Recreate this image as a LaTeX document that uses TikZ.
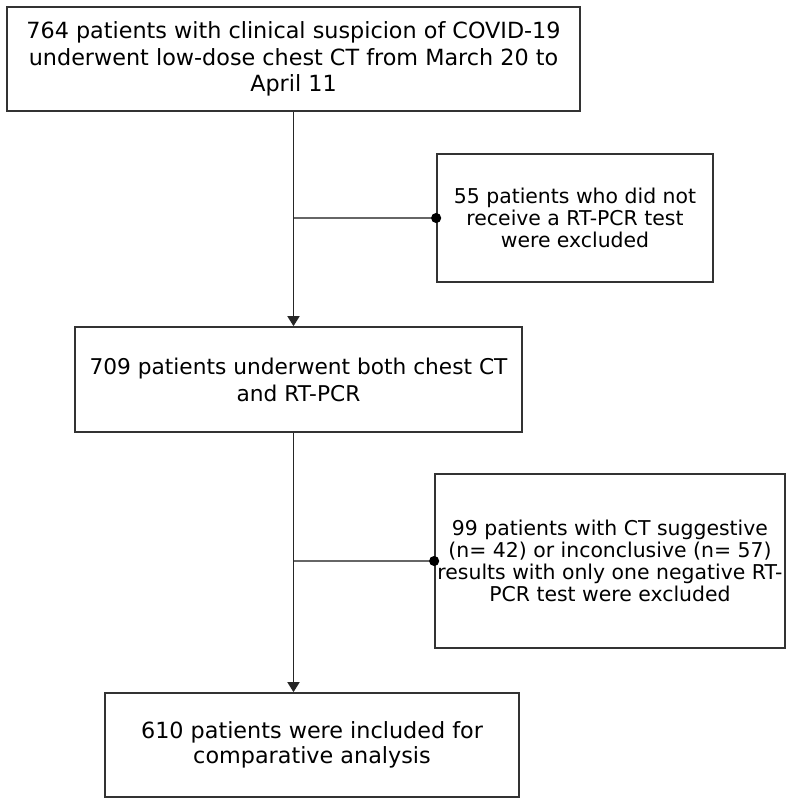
\documentclass[tikz,border=0pt]{standalone}
\usepackage{fontspec}
\setmainfont{DejaVu Sans}
\usetikzlibrary{arrows.meta}

\tikzset{every picture/.style={line width=1.7pt}}
\tikzset{
  flowbox/.style={draw=black!80, fill=white, align=center, inner sep=0pt},
  trunk/.style={draw=black!85, -{Triangle[length=10pt,width=12pt]}},
  branch/.style={draw=black!60, -{Circle[length=10pt,black]}, shorten >=-5pt}
}

\begin{document}
\begin{tikzpicture}[x=1pt,y=1pt,yscale=-1]
  \useasboundingbox [fill=white] (0,0) rectangle (800,807);

  \node (start) [flowbox, minimum width=573pt, minimum height=104pt,
    font=\fontsize{22.3}{26.5}\selectfont] at (293.5,59)
    {764 patients with clinical suspicion of COVID-19\\underwent low-dose chest CT from March 20 to\\April 11};
  \node (excla) [flowbox, minimum width=276pt, minimum height=128pt,
    font=\fontsize{20.4}{21.8}\selectfont] at (575,218)
    {55 patients who did not\\receive a RT-PCR test\\were excluded};
  \node (both) [flowbox, minimum width=447pt, minimum height=105pt,
    font=\fontsize{21.7}{27}\selectfont] at (298.5,379.5)
    {709 patients underwent both chest CT\\and RT-PCR};
  \node (exclb) [flowbox, minimum width=350pt, minimum height=174pt,
    font=\fontsize{20.4}{21.8}\selectfont] at (610,561)
    {99 patients with CT suggestive\\(n= 42) or inconclusive (n= 57)\\results with only one negative RT-\\PCR test were excluded};
  \node (final) [flowbox, minimum width=414pt, minimum height=104pt,
    font=\fontsize{22.3}{25}\selectfont] at (312,745)
    {610 patients were included for\\comparative analysis};

  % main line
  \draw [trunk] (start.south) -- (start.south |- both.north);
  \draw [trunk] (start.south |- both.south) -- (start.south |- final.north);

  % exclusions
  \draw [branch] (start.south |- excla.west) -- (excla.west);
  \draw [branch] (start.south |- exclb.west) -- (exclb.west);

\end{tikzpicture}
\end{document}
